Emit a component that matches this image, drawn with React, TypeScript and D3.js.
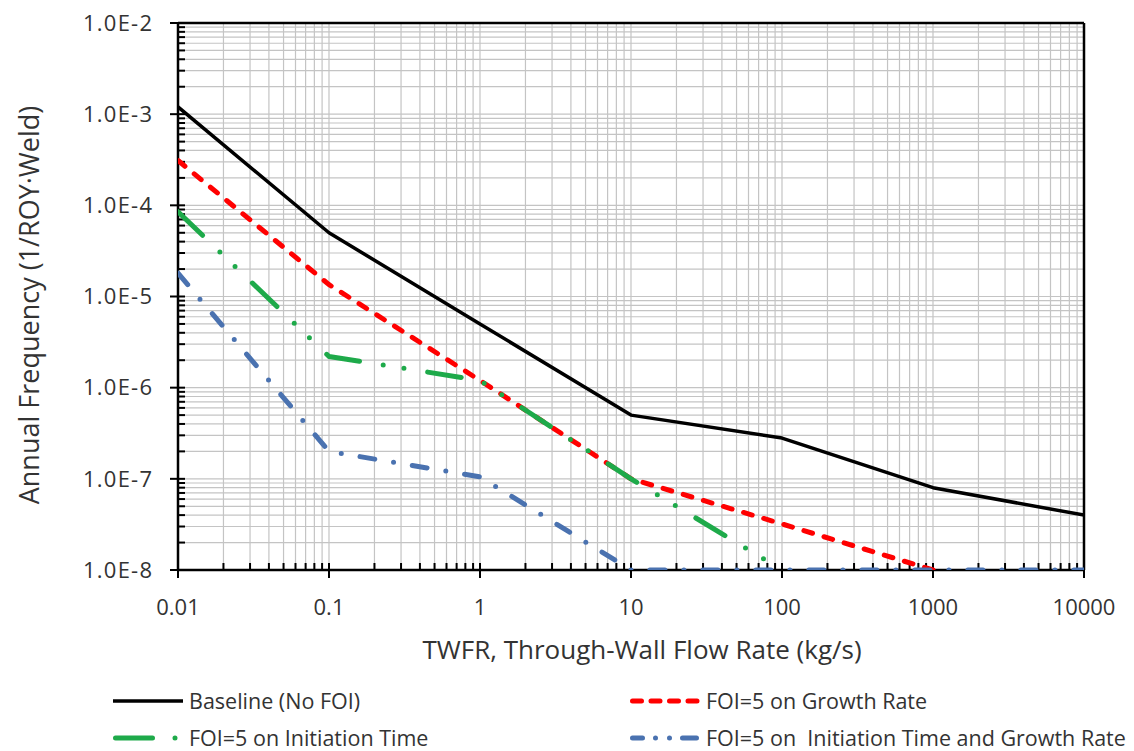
import React from "react";
import * as d3 from "d3";

// TWFR values (kg/s) where each curve is read
const flowRates = [0.01, 0.1, 1, 10, 100, 1000, 10000];

// annual frequency (1/ROY·Weld) per series
const baseline = [1.2e-3, 5e-5, 5e-6, 5e-7, 2.8e-7, 8e-8, 4e-8];
const growthRate = [3.1e-4, 1.35e-5, 1.2e-6, 1e-7, 3.2e-8, 1e-8];
const initTime = [8.5e-5, 2.2e-6, 1.2e-6, 1e-7, 1e-8];
const initAndGrowth = [1.8e-5, 2e-7, 1.05e-7, 1e-8, 1e-8, 1e-8, 1e-8];

const xTickLabels = ["0.01", "0.1", "1", "10", "100", "1000", "10000"];
const yTickLabels = ["1.0E-8", "1.0E-7", "1.0E-6", "1.0E-5", "1.0E-4", "1.0E-3", "1.0E-2"];

const series = [
  { name: "Baseline (No FOI)", values: baseline, color: "#000000", width: 3.5, dash: null, cap: "butt", legendDash: null },
  { name: "FOI=5 on Growth Rate", values: growthRate, color: "#ff0000", width: 5, dash: "9 12", cap: "round", legendDash: "9 9.5" },
  { name: "FOI=5 on Initiation Time", values: initTime, color: "#1eaa4a", width: 5, dash: "34 24 0 21 0 24", cap: "round", legendDash: "37 22.5 0 40" },
  { name: "FOI=5 on  Initiation Time and Growth Rate", values: initAndGrowth, color: "#4a72b0", width: 5, dash: "15 19 0 19", cap: "round", legendDash: "10 13 0 14 0 13 14" },
];

const W = 1134, H = 751;
const m = { left: 178, right: 1084, top: 23, bottom: 570 };
const font = "'Open Sans', sans-serif";

export default function App() {
  const x = d3.scaleLog().domain([0.01, 10000]).range([m.left, m.right]);
  const y = d3.scaleLog().domain([1e-8, 1e-2]).range([m.bottom, m.top]);

  // every 1..9 x 10^k inside the domain
  const minors = (dom: number[]) => {
    const out: number[] = [];
    for (let e = Math.round(Math.log10(dom[0])); e < Math.round(Math.log10(dom[1])); e++) {
      for (let k = 1; k < 10; k++) out.push(k * Math.pow(10, e));
    }
    out.push(dom[1]);
    return out;
  };
  const xAll = minors(x.domain());
  const yAll = minors(y.domain());
  const isMajor = (v: number) => Math.abs(Math.log10(v) - Math.round(Math.log10(v))) < 1e-9;

  const line = d3.line<[number, number]>()
    .x(d => x(d[0]))
    .y(d => y(d[1]));

  const legend = [
    { s: series[0], lx: 113, ly: 701 },
    { s: series[1], lx: 630, ly: 701 },
    { s: series[2], lx: 113, ly: 738 },
    { s: series[3], lx: 630, ly: 738 },
  ];

  return (
    <svg width={W} height={H} style={{ position: "absolute", left: 0, top: 0, background: "#fff" }} fontFamily={font}>
      <defs>
        <clipPath id="plot">
          <rect x={m.left} y={m.top} width={m.right - m.left} height={m.bottom - m.top} />
        </clipPath>
      </defs>

      {/* grid */}
      <g stroke="#c4c4c4" strokeWidth={1.2}>
        {xAll.map((v, i) => (
          <line key={"gx" + i} x1={x(v)} x2={x(v)} y1={m.top} y2={m.bottom} />
        ))}
        {yAll.map((v, i) => (
          <line key={"gy" + i} x1={m.left} x2={m.right} y1={y(v)} y2={y(v)} />
        ))}
      </g>

      {/* frame */}
      <g stroke="#000" strokeWidth={2.5} fill="none">
        <line x1={m.left} x2={m.right} y1={m.top} y2={m.top} />
        <line x1={m.right} x2={m.right} y1={m.top} y2={m.bottom} />
        <line x1={m.left} x2={m.left} y1={m.top - 1} y2={m.bottom + 1} />
        <line x1={m.left - 1} x2={m.right + 1} y1={m.bottom} y2={m.bottom} />
      </g>

      {/* ticks */}
      <g stroke="#000" strokeWidth={2}>
        {yAll.map((v, i) => (
          <line key={"ty" + i} x1={isMajor(v) ? m.left - 8 : m.left} x2={m.left + 7} y1={y(v)} y2={y(v)} />
        ))}
        {xAll.map((v, i) => (
          <line key={"tx" + i} x1={x(v)} x2={x(v)} y1={m.bottom - 7} y2={isMajor(v) ? m.bottom + 8 : m.bottom} />
        ))}
      </g>

      {/* tick labels */}
      <g fontSize={22} fill="#333">
        {y.ticks().filter(isMajor).map((v, i) => (
          <text key={"ly" + i} x={m.left - 95} y={y(v)} dy="0.35em" textLength={69} lengthAdjust="spacing">
            {yTickLabels[i]}
          </text>
        ))}
        {x.ticks().filter(isMajor).map((v, i) => (
          <text key={"lx" + i} x={x(v)} y={m.bottom + 37} dy="0.35em" textAnchor="middle">
            {xTickLabels[i]}
          </text>
        ))}
      </g>

      {/* axis titles */}
      <text x={642} y={650} dy="0.35em" textAnchor="middle" fontSize={26} fill="#333">
        TWFR, Through-Wall Flow Rate (kg/s)
      </text>
      <text transform={`translate(30, ${(100 + 510) / 2}) rotate(-90)`} dy="0.35em" textAnchor="middle" fontSize={27} fill="#333">
        Annual Frequency (1/ROY·Weld)
      </text>

      {/* series */}
      <g clipPath="url(#plot)" fill="none">
        {series.map((s, i) => (
          <path
            key={"s" + i}
            d={line(s.values.map((v, j) => [flowRates[j], v] as [number, number])) || ""}
            stroke={s.color}
            strokeWidth={s.width}
            strokeDasharray={s.dash || undefined}
            strokeLinecap={s.cap as any}
            strokeLinejoin="round"
          />
        ))}
      </g>

      {/* legend */}
      <g>
        {legend.map(({ s, lx, ly }, i) => (
          <g key={"lg" + i}>
            <line
              x1={lx + (s.dash ? 2.5 : 0)}
              x2={lx + 70 - (s.dash ? 2.5 : 0)}
              y1={ly}
              y2={ly}
              stroke={s.color}
              strokeWidth={s.width}
              strokeDasharray={s.legendDash || undefined}
              strokeLinecap={s.cap as any}
            />
            <text x={lx + 76} y={ly} dy="0.35em" fontSize={21.5} fill="#333" style={{ whiteSpace: "pre" }}>
              {s.name}
            </text>
          </g>
        ))}
      </g>
    </svg>
  );
}
